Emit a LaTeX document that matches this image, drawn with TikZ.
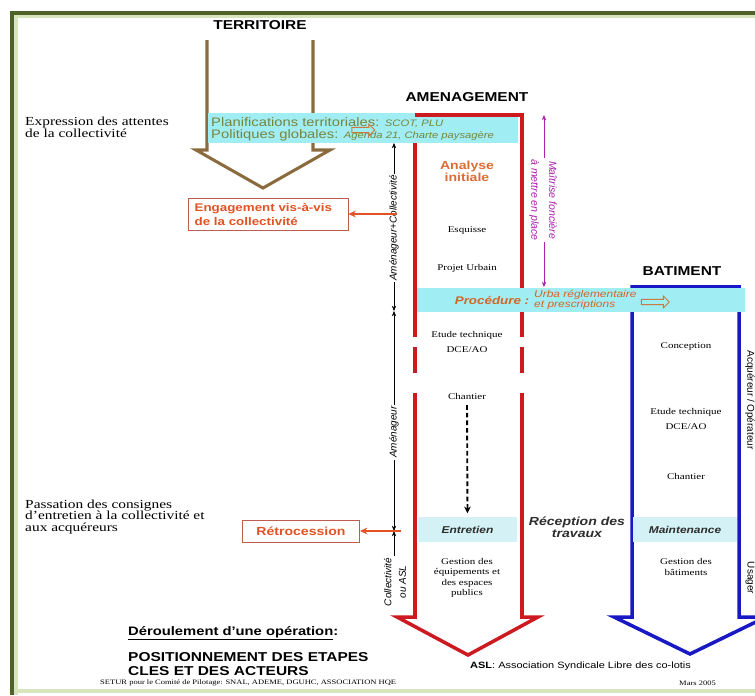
\documentclass[tikz,border=0pt]{standalone}
\usepackage{fontspec}
\setmainfont{Liberation Serif}[FakeStretch=1.25]
\setsansfont{Liberation Sans}[FakeStretch=1.2]
\newfontfamily\plainsans{Liberation Sans}
\usepackage{tikz}
\usetikzlibrary{arrows.meta,positioning,shapes.arrows}
\definecolor{framedark}{RGB}{79,98,40}
\definecolor{framelight}{RGB}{215,228,188}
\definecolor{terrbrown}{RGB}{139,107,62}
\definecolor{amred}{RGB}{204,26,32}
\definecolor{batblue}{RGB}{24,24,196}
\definecolor{bandcyan}{RGB}{160,238,243}
\definecolor{palecyan}{RGB}{212,242,245}
\definecolor{plangreen}{RGB}{120,132,60}
\definecolor{actred}{RGB}{226,82,34}
\definecolor{boxred}{RGB}{190,92,80}
\definecolor{anaorange}{RGB}{220,108,52}
\definecolor{procorange}{RGB}{212,100,40}
\definecolor{hollowor}{RGB}{205,120,60}
\definecolor{magen}{RGB}{172,32,172}
\definecolor{darktxt}{RGB}{45,45,45}

\begin{document}
\begin{tikzpicture}[x=0.03cm, y=-0.03cm,
    title/.style={font=\sffamily\bfseries\fontsize{11}{12}\selectfont},
    stagetxt/.style={font=\fontsize{7.5}{9}\selectfont, align=center, inner sep=0pt},
    sidetxt/.style={font=\fontsize{10.5}{10}\selectfont, align=left, inner sep=0pt, anchor=west},
    band/.style={fill=bandcyan, draw=none, inner sep=0pt},
    paleband/.style={fill=palecyan, draw=none, inner sep=0pt, font=\sffamily\bfseries\itshape\fontsize{8.5}{10}\selectfont, text=darktxt},
    actbox/.style={draw=boxred, line width=0.8pt, text=actred, font=\sffamily\bfseries\fontsize{9.5}{12}\selectfont},
    actarrow/.style={draw=actred, line width=1.6pt, -{Stealth[length=2.2mm,width=2mm]}},
    span/.style={{Stealth[length=1.6mm,width=1.3mm]}-{Stealth[length=1.6mm,width=1.3mm]}, line width=0.5pt},
    rotlabel/.style={font=\plainsans\itshape\fontsize{8.5}{12.5}\selectfont, fill=white, inner sep=1.5pt, align=center},
    hollow/.style={single arrow, draw=hollowor, line width=0.8pt, inner sep=0.065cm, single arrow head extend=0.1cm},
    redline/.style={draw=amred, line width=3pt},
    blueline/.style={draw=batblue, line width=3pt},
    brownline/.style={draw=terrbrown, line width=2.6pt}
]
    \useasboundingbox (0,0) rectangle (755,695);
    \clip (0,0) rectangle (755,695);

    \fill[framedark] (10,11) rectangle (14,695);
    \fill[framedark] (10,11) rectangle (755,15);
    \fill[framelight] (14,15) rectangle (18,695);
    \fill[framelight] (14,15) rectangle (755,18);
    \fill[framelight] (14,689) rectangle (755,693);

    \draw[brownline] (207,40) -- (207,150) -- (196,150) -- (263,188) -- (330,150) -- (313,150) -- (313,40);

    \node[band, minimum width=9.3cm, minimum height=0.9cm] (planband) at (363,128) {};
    \node[font=\sffamily\fontsize{10.5}{10}\selectfont, text=plangreen, align=left, anchor=west, inner sep=0pt] (plan) at (211,129)
        {Planifications territoriales: {\itshape\fontsize{8}{10}\selectfont SCOT, PLU}\\
         Politiques globales: {\itshape\fontsize{8}{10}\selectfont Agenda 21, Charte paysagère}};
    \node[hollow, minimum height=0.69cm, minimum width=0.3cm] (harrowA) at (362,130) {};

    \draw[redline] (415,143) -- (415,337);
    \draw[redline] (415,115) -- (522,115) -- (522,337);
    \draw[redline] (415,347) -- (415,373) (522,347) -- (522,373);
    \draw[redline] (415,393) -- (415,617) -- (397,617) -- (468,655) -- (538,617) -- (522,617) -- (522,393);

    \draw[blueline] (614,617) -- (632,617) -- (632,287) -- (739,287) -- (739,617) -- (766,617) -- (690,654) -- cycle;

    \node[band, minimum width=9.84cm, minimum height=0.72cm] (procband) at (581,300) {};
    \node[paleband, minimum width=2.97cm, minimum height=0.75cm] (entr) at (467.5,529.5) {Entretien};
    \node[paleband, minimum width=3.12cm, minimum height=0.75cm] (maint) at (685,529.5) {Maintenance};

    \node[title] (terr) at (260,25) {TERRITOIRE};
    \node[title] (amen) at (467,97) {AMENAGEMENT};
    \node[title] (bat) at (682,271) {BATIMENT};

    \node[font=\sffamily\bfseries\fontsize{10}{10.5}\selectfont, text=anaorange, align=center] (ana) at (467,171) {Analyse\\initiale};
    \node[stagetxt] (esq) at (467,231) {Esquisse};
    \node[stagetxt] (proj) at (467,268) {Projet Urbain};
    \node[stagetxt, font=\fontsize{7.5}{12.8}\selectfont] (etudeA) at (467,342) {Etude technique\\DCE/AO};
    \node[stagetxt] (chanA) at (467,396) {Chantier};
    \node[stagetxt, font=\fontsize{7.5}{9}\selectfont] (gestA) at (467,578) {Gestion des\\équipements et\\des espaces\\publics};

    \node[stagetxt] (conc) at (686,347) {Conception};
    \node[stagetxt, font=\fontsize{7.5}{12.8}\selectfont] (etudeB) at (686,419) {Etude technique\\DCE/AO};
    \node[stagetxt] (chanB) at (686,476) {Chantier};
    \node[stagetxt, font=\fontsize{7.5}{9.4}\selectfont] (gestB) at (686,567) {Gestion des\\bâtiments};

    \draw[line width=1.6pt, dash pattern=on 4pt off 2.5pt, -{Stealth[length=2mm,width=2mm]}, shorten <=5pt, shorten >=3pt] (chanA.south) -- (entr.north);

    \node[font=\sffamily\bfseries\itshape\fontsize{10}{10}\selectfont, text=darktxt, align=center] (recep) at (577,527) {Réception des\\travaux};

    \node[font=\sffamily\bfseries\itshape\fontsize{9.5}{10}\selectfont, text=procorange, inner sep=0pt] (proc) at (492,300) {Procédure :};
    \node[font=\sffamily\itshape\fontsize{8.5}{8.8}\selectfont, text=procorange, align=left, anchor=west, inner sep=0pt] (urba) at (534,300) {Urba réglementaire\\et prescriptions};
    \node[hollow, minimum height=0.84cm, minimum width=0.33cm] (harrowB) at (654,302) {};

    \coordinate (m0) at (544,115);
    \coordinate (m1) at (544,287);
    \draw[span, draw=magen, line width=0.8pt] (m0) -- (m1);
    \node[rotlabel, rotate=-90, text=magen, font=\plainsans\itshape\fontsize{9}{15}\selectfont] (mait) at (543,200) {Maîtrise foncière\\à mettre en place};

    \coordinate (a0) at (394,143);
    \coordinate (a1) at (394,311);
    \coordinate (a2) at (394,531);
    \coordinate (a3) at (394,556);
    \draw[span] (a0) -- (a1);
    \draw[span] (a1) -- (a2);
    \draw[{Stealth[length=1.6mm,width=1.3mm]}-, line width=0.5pt] (a2) -- (a3);
    \node[rotlabel, rotate=90] (lab1) at (394,228) {Aménageur+Collectivité};
    \node[rotlabel, rotate=90] (lab2) at (394,432) {Aménageur};
    \node[rotlabel, rotate=90, fill=none] (lab3) at (395,582) {Collectivité\\ou ASL};

    \node[actbox, text width=4.4cm, align=left, inner xsep=0.2cm, minimum height=0.96cm] (engage) at (268,214) {Engagement vis-à-vis\\de la collectivité};
    \node[actbox, font=\sffamily\bfseries\fontsize{10}{12}\selectfont, minimum width=3.51cm, minimum height=0.66cm, inner sep=0pt] (retro) at (301,531) {Rétrocession};
    \coordinate (e0) at (397,214);
    \coordinate (r0) at (401,531);
    \draw[actarrow] (e0) -- (engage);
    \draw[actarrow] (r0) -- (retro);

    \node[sidetxt] (expr) at (25,127.5) {Expression des attentes\\de la collectivité};
    \node[sidetxt] (pass) at (25,517) {Passation des consignes\\d'entretien à la collectivité et\\aux acquéreurs};

    \node[font=\sffamily\bfseries\fontsize{10.5}{12}\selectfont, anchor=west, inner sep=0pt] (derou) at (128,633) {\underline{Déroulement d'une opération}:};
    \node[font=\sffamily\bfseries\fontsize{11}{12}\selectfont, align=left, anchor=west, inner sep=0pt] (posit) at (128,664) {POSITIONNEMENT DES ETAPES\\CLES ET DES ACTEURS};
    \node[font=\sffamily\fontsize{7.8}{9}\selectfont, anchor=west, inner sep=0pt] (asl) at (470,666) {\textbf{ASL}: Association Syndicale Libre des co-lotis};
    \node[font=\fontsize{5.8}{7}\selectfont, anchor=west, inner sep=0pt] (setur) at (100,683) {SETUR pour le Comité de Pilotage: SNAL, ADEME, DGUHC, ASSOCIATION HQE};
    \node[font=\fontsize{5.8}{7}\selectfont, anchor=west, inner sep=0pt] (mars) at (679,683) {Mars 2005};

    \node[font=\plainsans\fontsize{8.5}{10}\selectfont, rotate=-90, inner sep=0pt] (acq) at (750,400) {Acquéreur / Opérateur};
    \node[font=\plainsans\fontsize{8.5}{10}\selectfont, rotate=-90, inner sep=0pt] (usag) at (750,578) {Usager};
\end{tikzpicture}
\end{document}
